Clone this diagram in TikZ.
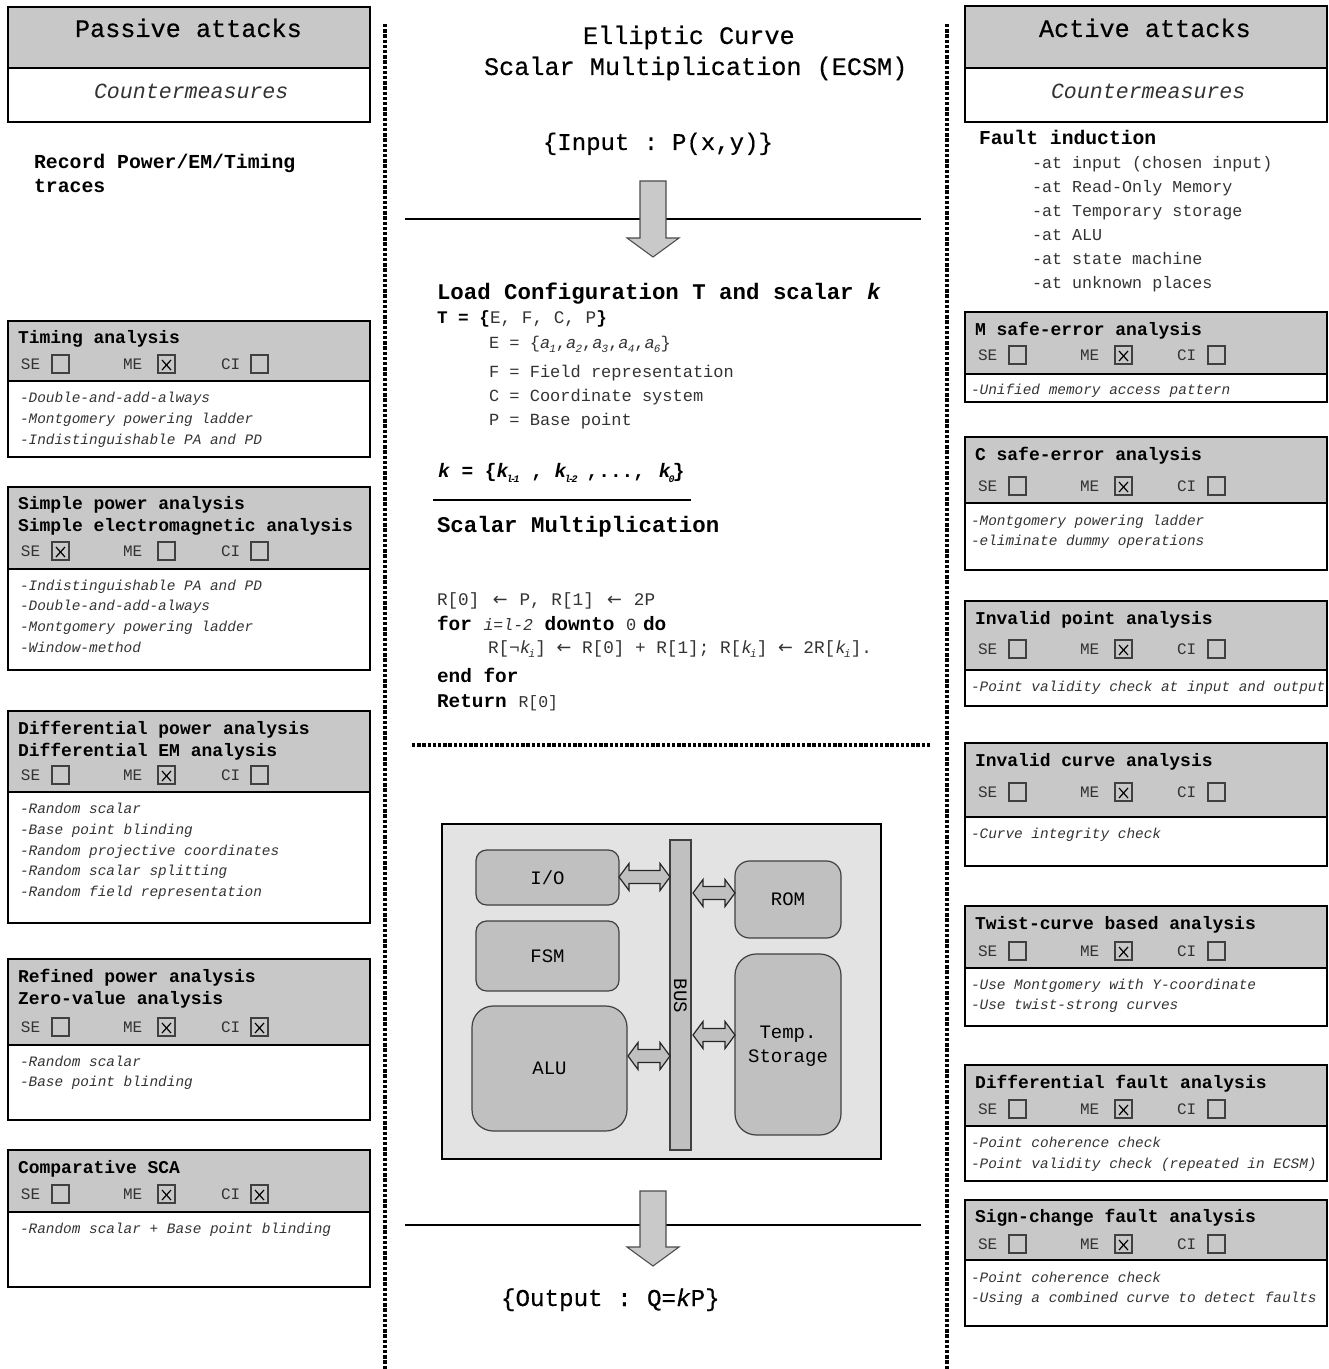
\documentclass[tikz,border=0pt]{standalone}
\usepackage{fontspec}
\usetikzlibrary{calc}
\setmainfont{Liberation Mono}
\newfontfamily\arrfont{DejaVu Sans}
\definecolor{headgray}{HTML}{C8C8C8}
\definecolor{chipbg}{HTML}{E3E3E3}
\definecolor{chipbox}{HTML}{C0C0C0}
\definecolor{inktext}{HTML}{333333}
\newcommand{\fsz}[1]{\fontsize{\dimexpr#1pt*3/4\relax}{\dimexpr#1pt\relax}\selectfont}
\newcommand{\semib}{\addfontfeature{FakeBold=0.4}}
\newcommand{\larr}{{\arrfont ←}}
\newcounter{txtn}
\newcommand{\lbl}[5][]{\stepcounter{txtn}\node[lab,#1] (t\arabic{txtn}) at (#2,#3) {\fsz{#4}#5};}
\newcommand{\hd}[3]{\lbl[font=\bfseries]{#1}{#2}{18}{#3}}
\newcommand{\itm}[3]{\lbl[text=inktext,font=\itshape]{#1}{#2}{14.4}{#3}}
\newcommand{\sbs}[1]{\raisebox{-.45ex}{\fsz{11}\itshape #1}}
\newcommand{\sbt}[1]{\raisebox{-.55ex}{\fsz{10}\itshape #1}}
\newcommand{\rbx}[8]{% name x1 y1 x2 y2 style radius text
  \pgfmathsetlengthmacro{\bw}{((#4)-(#2))*.75pt}\pgfmathsetlengthmacro{\bh}{((#5)-(#3))*.75pt}
  \node[#6,rounded corners=#7,minimum width=\bw,minimum height=\bh,inner sep=0pt,outer sep=0pt,align=center] (#1) at ({((#2)+(#4))/2},{((#3)+(#5))/2}) {#8};}
\newcommand{\chk}[5]{% node name, label, xlabel, xbox, y
  \lbl[text=inktext]{#3}{#5+5}{16}{#2}
  \rbx{#1}{#4}{#5-9}{#4+17}{#5+9}{draw=black!75,line width=.8pt}{0pt}{}}
\newcommand{\crossmark}[1]{\draw[line width=.9pt] ($(#1.south west)+(4,-3)$) -- ($(#1.north east)+(-4,5)$) ($(#1.north west)+(4,5)$) -- ($(#1.south east)+(-4,-3)$);}
\newcommand{\checksL}[4]{% name y checked
  \chk{#1se}{SE}{21}{52}{#2}\chk{#1me}{ME}{123}{158}{#2}\chk{#1ci}{CI}{221}{251}{#2}
  \foreach \c in {#3}{\crossmark{#1\c}}}
\newcommand{\checksR}[3]{%
  \chk{#1se}{SE}{978}{1009}{#2}\chk{#1me}{ME}{1080}{1115}{#2}\chk{#1ci}{CI}{1177}{1208}{#2}
  \foreach \c in {#3}{\crossmark{#1\c}}}
\newcommand{\panel}[6]{% name x1 x2 top mid bot
  \rbx{#1b}{#2}{#5}{#3}{#6}{draw=black,fill=white,line width=.9pt}{0pt}{}
  \rbx{#1h}{#2}{#4}{#3}{#5}{draw=black,fill=headgray,line width=.9pt}{0pt}{}}
\newcommand{\bigpanel}[5]{% name x1 x2 top
  \rbx{#1b}{#2}{68}{#3}{122}{draw=black,fill=white,line width=2pt}{0pt}{}
  \rbx{#1h}{#2}{#4}{#3}{68}{draw=black,fill=headgray,line width=2pt}{0pt}{}}
\newcommand{\dbl}[4]{% from coord, to coord
  \draw[chiparrow] (#1) -- ++(10,-13.5) -- ++(0,7) -- ($(#2)+(-10,-6.5)$) -- ++(0,-7) -- (#2) -- ++(-10,13.5) -- ++(0,-7) -- ($(#1)+(10,6.5)$) -- ++(0,7) -- cycle;}
\tikzset{
  lab/.style={anchor=base west,inner sep=0pt,outer sep=0pt,text=black},
  dotline/.style={line width=2.3pt,dash pattern=on 2.5pt off 1.4pt},
  rulethick/.style={line width=2.2pt,black},
  chiparrow/.style={draw=black!85,fill=chipbox,line width=.9pt,line join=miter},
  chipnode/.style={draw=black!75,fill=chipbox,line width=.9pt},
  downarrow/.style={draw=black!70,fill=chipbox!85!white,line width=.8pt}
}
\begin{document}
\begin{tikzpicture}[x=.75pt,y=-.75pt]
\useasboundingbox (0,0) rectangle (1328,1369);
% dividers
\coordinate (dl1) at (385,24); \coordinate (dl2) at (385,1369);
\coordinate (dr1) at (947,24); \coordinate (dr2) at (947,1369);
\coordinate (dh1) at (412,745); \coordinate (dh2) at (930,745);
\draw[dotline] (dl1) -- (dl2);
\draw[dotline] (dr1) -- (dr2);
\draw[dotline] (dh1) -- (dh2);
% top headers
\bigpanel{pa}{8}{370}{7}{}
\bigpanel{aa}{965}{1327}{6}{}
\lbl{75}{37}{25.2}{\semib Passive attacks}
\lbl{1039}{37}{25.2}{\semib Active attacks}
\lbl[font=\itshape,text=inktext]{94}{99}{21.6}{Countermeasures}
\lbl[font=\itshape,text=inktext]{1051}{99}{21.6}{Countermeasures}
\lbl[font=\bfseries]{34}{169}{19.8}{Record Power/EM/Timing}
\lbl[font=\bfseries]{34}{193}{19.8}{traces}
\lbl[font=\bfseries]{979}{145}{19.7}{Fault induction}
\lbl[text=inktext]{1032}{169}{16.7}{-at input (chosen input)}
\lbl[text=inktext]{1032}{193}{16.7}{-at Read-Only Memory}
\lbl[text=inktext]{1032}{217}{16.7}{-at Temporary storage}
\lbl[text=inktext]{1032}{241}{16.7}{-at ALU}
\lbl[text=inktext]{1032}{265}{16.7}{-at state machine}
\lbl[text=inktext]{1032}{289}{16.7}{-at unknown places}
% left panels
\panel{ta}{8}{370}{321}{381}{457}
\hd{18}{343}{Timing analysis}\checksL{ta}{364}{me}{}
\itm{20}{402}{-Double-and-add-always}\itm{20}{423}{-Montgomery powering ladder}\itm{20}{444}{-Indistinguishable PA and PD}
\panel{sp}{8}{370}{487}{569}{670}
\hd{18}{509}{Simple power analysis}\hd{18}{531}{Simple electromagnetic analysis}\checksL{sp}{551}{se}{}
\itm{20}{590}{-Indistinguishable PA and PD}\itm{20}{610}{-Double-and-add-always}\itm{20}{631}{-Montgomery powering ladder}\itm{20}{652}{-Window-method}
\panel{dp}{8}{370}{711}{792}{923}
\hd{18}{734}{Differential power analysis}\hd{18}{756}{Differential EM analysis}\checksL{dp}{775}{me}{}
\itm{20}{813}{-Random scalar}\itm{20}{834}{-Base point blinding}\itm{20}{855}{-Random projective coordinates}\itm{20}{875}{-Random scalar splitting}\itm{20}{896}{-Random field representation}
\panel{rp}{8}{370}{959}{1045}{1120}
\hd{18}{982}{Refined power analysis}\hd{18}{1004}{Zero-value analysis}\checksL{rp}{1027}{me,ci}{}
\itm{20}{1066}{-Random scalar}\itm{20}{1086}{-Base point blinding}
\panel{cs}{8}{370}{1150}{1212}{1287}
\hd{18}{1173}{Comparative SCA}\checksL{cs}{1194}{me,ci}{}
\itm{20}{1233}{-Random scalar + Base point blinding}
% right panels
\panel{ms}{965}{1327}{312}{374}{402}
\hd{975}{335}{M safe-error analysis}\checksR{ms}{355}{me}
\itm{971}{394}{-Unified memory access pattern}
\panel{cf}{965}{1327}{437}{503}{570}
\hd{975}{460}{C safe-error analysis}\checksR{cf}{486}{me}
\itm{971}{525}{-Montgomery powering ladder}\itm{971}{545}{-eliminate dummy operations}
\panel{ip}{965}{1327}{601}{670}{706}
\hd{975}{624}{Invalid point analysis}\checksR{ip}{649}{me}
\itm{971}{691}{-Point validity check at input and output}
\panel{ic}{965}{1327}{743}{817}{866}
\hd{975}{766}{Invalid curve analysis}\checksR{ic}{792}{me}
\itm{971}{838}{-Curve integrity check}
\panel{tw}{965}{1327}{906}{968}{1026}
\hd{975}{929}{Twist-curve based analysis}\checksR{tw}{951}{me}
\itm{971}{989}{-Use Montgomery with Y-coordinate}\itm{971}{1009}{-Use twist-strong curves}
\panel{df}{965}{1327}{1065}{1126}{1181}
\hd{975}{1088}{Differential fault analysis}\checksR{df}{1109}{me}
\itm{971}{1147}{-Point coherence check}\itm{971}{1168}{-Point validity check (repeated in ECSM)}
\panel{sc}{965}{1327}{1200}{1260}{1326}
\hd{975}{1222}{Sign-change fault analysis}\checksR{sc}{1244}{me}
\itm{971}{1282}{-Point coherence check}\itm{971}{1302}{-Using a combined curve to detect faults}
% centre titles
\lbl{583}{44}{25.2}{\semib Elliptic Curve}
\lbl{484}{75}{25.2}{\semib Scalar Multiplication (ECSM)}
\lbl{543}{150}{24}{\semib\{Input :\kern-4pt{} P(x,y)\}}
% horizontal rules + block arrows
\coordinate (r1a) at (405,219); \coordinate (r1b) at (921,219);
\draw[rulethick] (r1a) -- (r1b);
\coordinate (r2a) at (405,1225); \coordinate (r2b) at (921,1225);
\draw[rulethick] (r2a) -- (r2b);
\coordinate (a1) at (653,181);
\draw[downarrow] (a1) ++(-13,0) -- ++(26,0) -- ++(0,57) -- ++(13,0) -- ++(-26,19) -- ++(-26,-19) -- ++(13,0) -- cycle;
\coordinate (a2) at (653,1191);
\draw[downarrow] (a2) ++(-13,0) -- ++(26,0) -- ++(0,56) -- ++(13,0) -- ++(-26,19) -- ++(-26,-19) -- ++(13,0) -- cycle;
% algorithm
\lbl[font=\bfseries]{437}{300}{22.4}{Load Configuration T and scalar \textit{k}}
\lbl{437}{324}{17.7}{\textbf{T = \{}\color{inktext}E, F, C, P\color{black}\textbf{\}}}
\lbl[text=inktext]{489}{348}{17}{E = \{\textit{a}\kern-.05em\sbs{1},\textit{a}\kern-.05em\sbs{2},\textit{a}\kern-.05em\sbs{3},\textit{a}\kern-.05em\sbs{4},\textit{a}\kern-.05em\sbs{6}\}}
\lbl[text=inktext]{489}{377}{17}{F = Field representation}
\lbl[text=inktext]{489}{401}{17}{C = Coordinate system}
\lbl[text=inktext]{489}{425}{17}{P = Base point}
\lbl[font=\bfseries]{438}{477}{19.5}{\textit{k} = \{\textit{k}\kern-.1em\sbt{l\kern-.25em-\kern-.25em1} , \textit{k}\kern-.1em\sbt{l\kern-.25em-\kern-.25em2}\kern.46em,...,\kern.7em\textit{k}\kern-.1em\sbt{0}\kern-.1em\}}
\coordinate (r3a) at (433,500); \coordinate (r3b) at (691,500);
\draw[line width=.9pt] (r3a) -- (r3b);
\lbl[font=\bfseries]{437}{532}{22.4}{Scalar Multiplication}
\lbl[text=inktext]{437}{605}{17.7}{R[0]\kern2pt{} \larr\kern1pt{} P, R[1]\kern2pt{} \larr\kern1pt{} 2P}
\lbl[font=\bfseries]{437}{630}{19.4}{for {\mdseries\itshape\color{inktext}\fsz{16.5}i=l-2} downto {\mdseries\color{inktext}\fsz{17}0} \kern-3.75pt do}
\lbl[text=inktext]{488}{653}{17.7}{R[¬\textit{k}\kern-.1em\sbs{i}] \larr{} R[0] + R[1]; R[\textit{k}\kern-.1em\sbs{i}] \larr{} 2R[\textit{k}\kern-.1em\sbs{i}].}
\lbl[font=\bfseries]{437}{682}{19.4}{end for}
\lbl[font=\bfseries]{437}{707}{19.4}{Return {\mdseries\color{inktext}\fsz{16.5}R[0]}}
% chip
\rbx{chip}{442}{824}{881}{1159}{draw=black,fill=chipbg,line width=.8pt}{0pt}{}
\rbx{io}{476}{850}{619}{905}{chipnode}{8pt}{\fsz{19}I/O}
\rbx{fsm}{476}{921}{619}{991}{chipnode}{8pt}{\fsz{19}FSM}
\rbx{alu}{472}{1006}{627}{1131}{chipnode}{16pt}{\fsz{19}ALU}
\rbx{bus}{670}{840}{691}{1150}{chipnode}{0pt}{}
\node[rotate=-90,inner sep=0pt] (bustxt) at (680.5,996) {\fsz{19}BUS};
\rbx{rom}{735}{861}{841}{938}{chipnode}{11pt}{\fsz{19}ROM}
\rbx{tmp}{735}{954}{841}{1135}{chipnode}{16pt}{}
\node[inner sep=0pt,align=center] (tmptxt) at (788,1046) {\fsz{19}Temp.\\[4.5pt]\fsz{19}Storage};
\coordinate (ioA) at (io.east |- 0,877); \coordinate (busA) at (bus.west |- 0,877);
\dbl{ioA}{busA}{}{}
\coordinate (romA) at (rom.west |- 0,893); \coordinate (busB) at (693,893);
\dbl{busB}{romA}{}{}
\coordinate (tmpA) at (tmp.west |- 0,1035); \coordinate (busC) at (693,1035);
\dbl{busC}{tmpA}{}{}
\coordinate (aluA) at (628,1056); \coordinate (busD) at (bus.west |- 0,1056);
\dbl{aluA}{busD}{}{}
\lbl{501}{1306}{24.2}{\semib\{Output :\kern-3pt{} Q=\textit{k}P\}}
\end{tikzpicture}
\end{document}
